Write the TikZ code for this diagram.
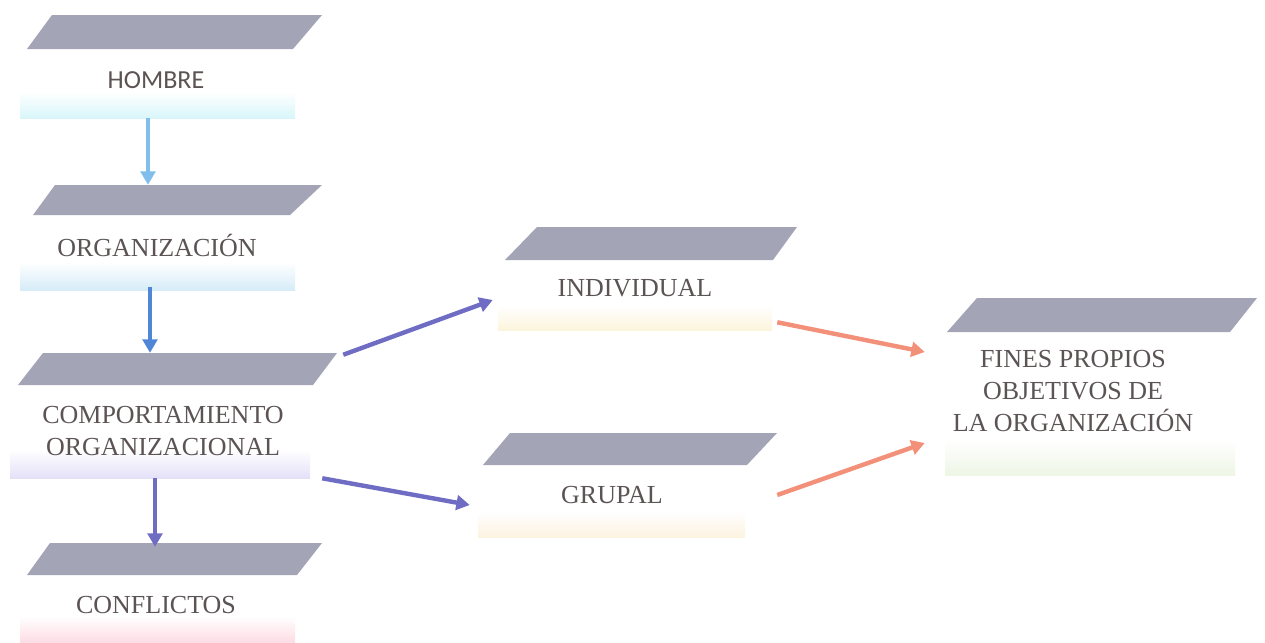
\documentclass[tikz,border=0pt]{standalone}
\usepackage{fontspec}
\setmainfont{Liberation Serif}
\newfontfamily\calib{Carlito}
\usetikzlibrary{calc,arrows.meta}
\definecolor{paraC}{HTML}{A3A4B6}
\definecolor{txtC}{HTML}{5C5454}
\definecolor{lblue}{HTML}{80BEEC}
\definecolor{mblue}{HTML}{4F86D6}
\definecolor{purp}{HTML}{6F6CC4}
\definecolor{salm}{HTML}{F2907A}
\definecolor{barCyan}{HTML}{D8F6FA}
\definecolor{barBlue}{HTML}{D6ECF8}
\definecolor{barLav}{HTML}{E4E0F8}
\definecolor{barPink}{HTML}{FDDCE4}
\definecolor{barYel}{HTML}{FCF4DC}
\definecolor{barPeach}{HTML}{FCF2E0}
\definecolor{barGreen}{HTML}{EEF6E6}
\tikzset{
  area/.style={draw=none, inner sep=0pt},
  txt/.style={text=txtC, font=\fontsize{19.5}{23.5}\selectfont, align=center, inner sep=0pt},
  para/.style={fill=paraC},
  conn/.style={line width=3.3pt, -{Triangle[length=10pt,width=11pt]}},
}
\begin{document}
\begin{tikzpicture}[x=0.75pt,y=-0.75pt]
\useasboundingbox (0,0) rectangle (1265,643);
\fill[white] (0,0) rectangle (1265,643);

% area nodes
\node[area, minimum width=302*0.75pt, minimum height=103*0.75pt] (hombre) at (171,66.5) {};
\node[area, minimum width=302*0.75pt, minimum height=105*0.75pt] (org) at (171,237.5) {};
\node[area, minimum width=327*0.75pt, minimum height=125*0.75pt] (comp) at (173.5,415.5) {};
\node[area, minimum width=302*0.75pt, minimum height=100*0.75pt] (conf) at (171,593) {};
\node[area, minimum width=307*0.75pt, minimum height=103*0.75pt] (indiv) at (643.5,278.5) {};
\node[area, minimum width=299*0.75pt, minimum height=104*0.75pt] (grup) at (627.5,485) {};
\node[area, minimum width=317*0.75pt, minimum height=177*0.75pt] (fines) at (1098.5,386.5) {};

% bars
\shade[top color=white, bottom color=barCyan] (20,92) rectangle (295,118);
\shade[top color=white, bottom color=barBlue] (20,262) rectangle (295,290);
\shade[top color=white, bottom color=barLav] (10,450) rectangle (310,478);
\shade[top color=white, bottom color=barPink] (20,616) rectangle (295,643);
\shade[top color=white, bottom color=barYel] (498,306) rectangle (772,330);
\shade[top color=white, bottom color=barPeach] (478,512) rectangle (745,537);
\shade[top color=white, bottom color=barGreen] (945,440) rectangle (1235,475);

% parallelograms
\fill[para] (52,15) -- (322,15) -- (293,49) -- (27,49) -- cycle;
\fill[para] (55,185) -- (322,185) -- (290,215) -- (33,215) -- cycle;
\fill[para] (43,353) -- (337,353) -- (313,385) -- (18,385) -- cycle;
\fill[para] (50,543) -- (322,543) -- (297,575) -- (27,575) -- cycle;
\fill[para] (537,227) -- (797,227) -- (773,260) -- (505,260) -- cycle;
\fill[para] (510,433) -- (777,433) -- (747,465) -- (483,465) -- cycle;
\fill[para] (977,298) -- (1257,298) -- (1230,332) -- (947,332) -- cycle;

% texts
\node[txt, font=\calib\fontsize{19.5}{23.5}\selectfont] (hombreT) at (156,80) {HOMBRE};
\node[txt] (orgT) at (157,245) {ORGANIZACIÓN};
\node[txt, font=\fontsize{19.5}{24}\selectfont] (compT) at (163,431) {COMPORTAMIENTO\\ORGANIZACIONAL};
\node[txt] (confT) at (156,605) {CONFLICTOS};
\node[txt] (indivT) at (635,288) {INDIVIDUAL};
\node[txt] (grupT) at (612,495) {GRUPAL};
\node[txt, font=\fontsize{19.5}{24}\selectfont] (finesT) at (1073,391) {FINES PROPIOS\\OBJETIVOS DE\\LA ORGANIZACIÓN};

% connectors
\draw[conn, lblue] ($(hombre.south)+(-23,0)$) -- ($(org.north)+(-23,0)$);
\draw[conn, mblue] ($(org.south)+(-21,-3)$) -- ($(comp.north)+(-23.5,0)$);
\draw[conn, purp] ($(comp.south)+(-18.5,0)$) -- ($(conf.north)+(-16,4)$);
\draw[conn, purp] ($(comp.north east)+(6,2)$) -- ($(indiv.west)+(3,21.5)$);
\draw[conn, purp] ($(comp.south east)+(-15,0)$) -- ($(grup.west)+(-8,20)$);
\draw[conn, salm] ($(indiv.south east)+(-20,-8)$) -- ($(fines.west)+(-15,-34.5)$);
\draw[conn, salm] ($(grup.east)+(0,10)$) -- ($(fines.west)+(-15,56.5)$);
\end{tikzpicture}
\end{document}
